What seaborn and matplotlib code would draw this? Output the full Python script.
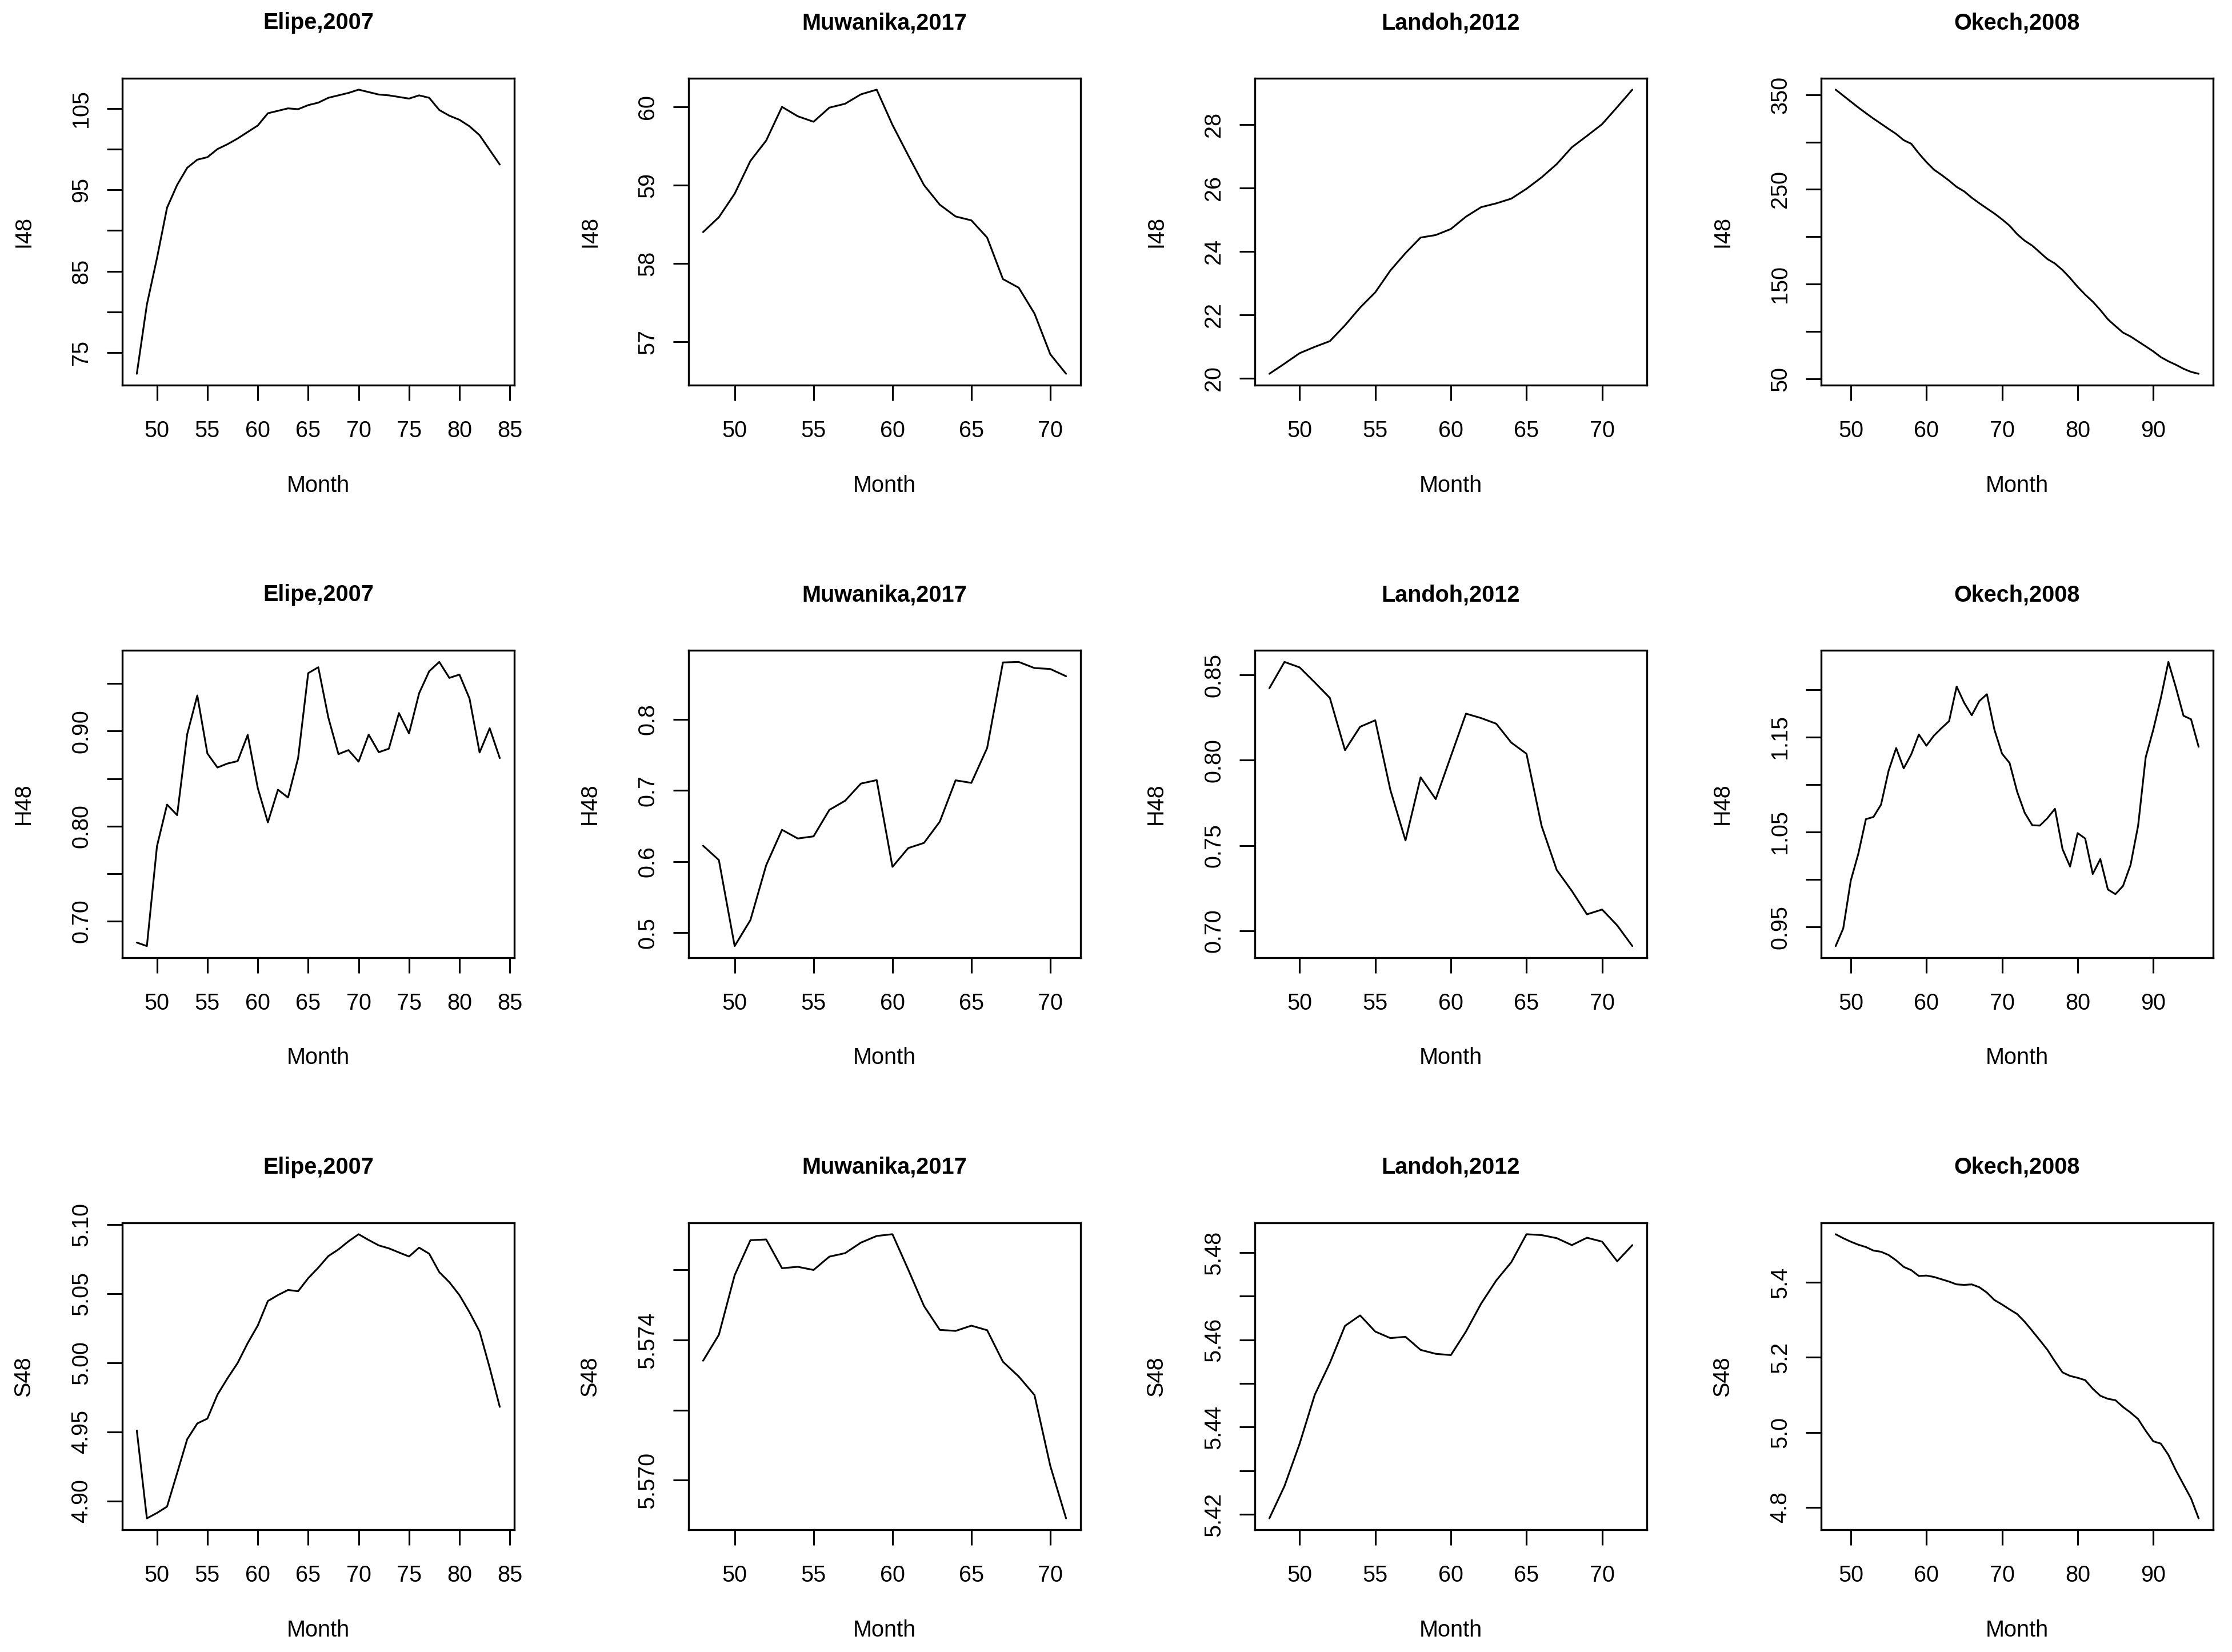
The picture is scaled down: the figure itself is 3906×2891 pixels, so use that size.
import numpy as np
import pandas as pd
import matplotlib
matplotlib.use("Agg")
import matplotlib.pyplot as plt
import seaborn as sns

# R base-graphics look: white background, black box, outward ticks
sns.set_theme(style="white")
plt.rcParams['font.family'] = ['Liberation Sans', 'DejaVu Sans']
for key in ['text.color', 'axes.labelcolor', 'xtick.color', 'ytick.color', 'axes.edgecolor']:
    plt.rcParams[key] = 'black'

sites = ["Elipe,2007", "Muwanika,2017", "Landoh,2012", "Okech,2008"]
variables = ["I48", "H48", "S48"]

month_elipe = np.arange(48, 85)
month_muwanika = np.arange(48, 72)
month_landoh = np.arange(48, 73)
month_okech = np.arange(48, 97)

# ---- I48 ----
i48_elipe = [72.4, 80.9, 86.6, 92.8, 95.6, 97.7, 98.7, 99.0, 100.0, 100.6, 101.3, 102.1, 102.9,
             104.4, 104.7, 105.0, 104.9, 105.4, 105.7, 106.3, 106.6, 106.9, 107.3, 107.0, 106.7,
             106.6, 106.4, 106.2, 106.6, 106.3, 104.8, 104.1, 103.6, 102.8, 101.7, 99.9, 98.1]
i48_muwanika = [58.40, 58.59, 58.89, 59.31, 59.57, 60.00, 59.88, 59.81, 59.99, 60.04, 60.16, 60.22,
                59.77, 59.38, 59.00, 58.75, 58.60, 58.55, 58.33, 57.80, 57.69, 57.36, 56.84, 56.59]
i48_landoh = [20.14, 20.46, 20.79, 20.99, 21.17, 21.67, 22.23, 22.71, 23.40, 23.95, 24.44, 24.52,
              24.71, 25.10, 25.40, 25.52, 25.67, 25.98, 26.34, 26.76, 27.29, 27.65, 28.02, 28.56, 29.11]
i48_okech = [355.4, 349.1, 342.8, 336.5, 330.6, 324.8, 319.4, 313.9, 308.6, 302.0, 298.2, 288.0,
             278.9, 270.9, 265.3, 259.3, 252.6, 247.9, 241.2, 235.4, 229.9, 224.5, 218.4, 211.7,
             202.7, 195.8, 190.6, 183.5, 176.4, 171.7, 164.8, 156.4, 147.1, 138.8, 131.4, 122.6,
             112.8, 105.6, 98.7, 94.6, 89.4, 84.2, 78.9, 72.8, 68.4, 64.7, 60.5, 57.2, 55.2]

# ---- H48 ----
h48_elipe = [0.6775, 0.6738, 0.7788, 0.8227, 0.8116, 0.8968, 0.9375, 0.8765, 0.8617, 0.8659,
             0.8684, 0.8960, 0.8400, 0.8040, 0.8383, 0.8301, 0.8716, 0.9610, 0.9672, 0.9141,
             0.8758, 0.8800, 0.8679, 0.8963, 0.8778, 0.8815, 0.9190, 0.8975, 0.9398, 0.9630,
             0.9728, 0.9560, 0.9595, 0.9343, 0.8775, 0.9030, 0.8716]
h48_muwanika = [0.6223, 0.6022, 0.4812, 0.5178, 0.5950, 0.6447, 0.6325, 0.6355, 0.6727, 0.6856,
                0.7097, 0.7146, 0.5926, 0.6190, 0.6263, 0.6562, 0.7143, 0.7107, 0.7598, 0.8801,
                0.8808, 0.8722, 0.8709, 0.8607]
h48_landoh = [0.8422, 0.8576, 0.8544, 0.8456, 0.8365, 0.8059, 0.8196, 0.8234, 0.7826, 0.7530,
              0.7900, 0.7772, 0.8023, 0.8273, 0.8247, 0.8214, 0.8103, 0.8038, 0.7615, 0.7357,
              0.7234, 0.7097, 0.7125, 0.7032, 0.6911]
h48_okech = [0.9298, 0.9483, 0.9988, 1.0271, 1.0635, 1.0658, 1.0788, 1.1145, 1.1384, 1.1170,
             1.1318, 1.1527, 1.1409, 1.1515, 1.1594, 1.1667, 1.2032, 1.1860, 1.1729, 1.1879,
             1.1951, 1.1576, 1.1325, 1.1227, 1.0924, 1.0702, 1.0571, 1.0567, 1.0645, 1.0744,
             1.0320, 1.0135, 1.0488, 1.0431, 1.0057, 1.0214, 0.9894, 0.9845, 0.9931, 1.0153,
             1.0567, 1.1286, 1.1576, 1.1909, 1.2291, 1.2020, 1.1724, 1.1687, 1.1397]

# ---- S48 ----
s48_elipe = [4.951, 4.8875, 4.8914, 4.8960, 4.9202, 4.9447, 4.9561, 4.9596, 4.9769, 4.9888,
             4.9998, 5.0142, 5.0269, 5.0446, 5.0489, 5.0526, 5.0517, 5.0611, 5.0687, 5.0771,
             5.0819, 5.0878, 5.0929, 5.0887, 5.0848, 5.0827, 5.0797, 5.0768, 5.0832, 5.0788,
             5.0655, 5.0582, 5.0489, 5.0365, 5.0226, 4.9964, 4.9681]
s48_muwanika = [5.57341, 5.57415, 5.57585, 5.57685, 5.57687, 5.57605, 5.57609, 5.57600, 5.57638,
                5.57648, 5.57678, 5.57697, 5.57702, 5.57601, 5.57497, 5.57429, 5.57426, 5.57441,
                5.57428, 5.57338, 5.57296, 5.57243, 5.57041, 5.56891]
s48_landoh = [5.4191, 5.4265, 5.4362, 5.4474, 5.4547, 5.4632, 5.4656, 5.4619, 5.4604, 5.4607,
              5.4577, 5.4568, 5.4565, 5.4619, 5.4683, 5.4736, 5.4778, 5.4842, 5.4840, 5.4833,
              5.4817, 5.4834, 5.4825, 5.4780, 5.4817]
s48_okech = [5.5282, 5.5176, 5.5083, 5.5002, 5.4940, 5.4846, 5.4815, 5.4728, 5.4585, 5.4411,
             5.4324, 5.4168, 5.4180, 5.4143, 5.4081, 5.4019, 5.3944, 5.3932, 5.3944, 5.3869,
             5.3726, 5.3527, 5.3409, 5.3278, 5.3154, 5.2948, 5.2705, 5.2456, 5.2201, 5.1890,
             5.1598, 5.1504, 5.1454, 5.1392, 5.1162, 5.0975, 5.0894, 5.0857, 5.0676, 5.0527,
             5.0353, 5.0042, 4.9762, 4.9699, 4.9401, 4.8983, 4.8610, 4.8237, 4.7707]

# ---- axis ticks (R pretty) ----
x_ticks = [[50, 55, 60, 65, 70, 75, 80, 85], [50, 55, 60, 65, 70],
           [50, 55, 60, 65, 70], [50, 60, 70, 80, 90]]

y_ticks = {
    "I48": [[75, 80, 85, 90, 95, 100, 105], [57, 58, 59, 60], [20, 22, 24, 26, 28],
            [50, 100, 150, 200, 250, 300, 350]],
    "H48": [[0.70, 0.75, 0.80, 0.85, 0.90, 0.95], [0.5, 0.6, 0.7, 0.8], [0.70, 0.75, 0.80, 0.85],
            [0.95, 1.00, 1.05, 1.10, 1.15, 1.20]],
    "S48": [[4.90, 4.95, 5.00, 5.05, 5.10], [5.570, 5.572, 5.574, 5.576],
            [5.42, 5.43, 5.44, 5.45, 5.46, 5.47, 5.48], [4.8, 5.0, 5.2, 5.4]],
}
y_labels = {
    "I48": [["75", "", "85", "", "95", "", "105"], ["57", "58", "59", "60"],
            ["20", "22", "24", "26", "28"], ["50", "", "150", "", "250", "", "350"]],
    "H48": [["0.70", "", "0.80", "", "0.90", ""], ["0.5", "0.6", "0.7", "0.8"],
            ["0.70", "0.75", "0.80", "0.85"], ["0.95", "", "1.05", "", "1.15", ""]],
    "S48": [["4.90", "4.95", "5.00", "5.05", "5.10"], ["5.570", "", "5.574", ""],
            ["5.42", "", "5.44", "", "5.46", "", "5.48"], ["4.8", "5.0", "5.2", "5.4"]],
}

months = [month_elipe, month_muwanika, month_landoh, month_okech]
values = {
    "I48": [i48_elipe, i48_muwanika, i48_landoh, i48_okech],
    "H48": [h48_elipe, h48_muwanika, h48_landoh, h48_okech],
    "S48": [s48_elipe, s48_muwanika, s48_landoh, s48_okech],
}

# layout in pixels of the 3906 x 2891 canvas
W, H, DPI = 3906, 2891, 300
LEFT0, DX, BOX_W = 214, 991, 686
TOP0, DY, BOX_H = 137, 1001.5, 537
FS = 9.5


def r_pad(v):
    lo, hi = min(v), max(v)
    d = (hi - lo) * 0.04
    return lo - d, hi + d


fig = plt.figure(figsize=(W / DPI, H / DPI), dpi=DPI)
fig.patch.set_facecolor('white')

for r, var in enumerate(variables):
    for c, site in enumerate(sites):
        left = (LEFT0 + c * DX) / W
        bottom = 1 - (TOP0 + r * DY + BOX_H) / H
        ax = fig.add_axes([left, bottom, BOX_W / W, BOX_H / H])

        df = pd.DataFrame({'Month': months[c], var: values[var][c]})
        sns.lineplot(data=df, x='Month', y=var, ax=ax, color='black', linewidth=0.75)

        ax.set_xlim(*r_pad(df['Month']))
        ax.set_ylim(*r_pad(df[var]))
        ax.set_xticks(x_ticks[c], [str(t) for t in x_ticks[c]])
        ax.set_yticks(y_ticks[var][c], y_labels[var][c])

        ax.tick_params(axis='both', direction='out', length=6.5, width=0.75,
                       color='black', labelsize=FS, bottom=True, left=True)
        ax.tick_params(axis='x', pad=8.2)
        ax.tick_params(axis='y', pad=6.2, labelrotation=90)
        for lab in ax.get_yticklabels():
            lab.set_va('center')

        for sp in ax.spines.values():
            sp.set_visible(True)
            sp.set_color('black')
            sp.set_linewidth(0.8)

        ax.set_xlabel('Month', fontsize=FS)
        ax.xaxis.set_label_coords(0.5, -176 / BOX_H)
        ax.xaxis.label.set_va('center')
        ax.set_ylabel(var, fontsize=FS)
        ax.yaxis.set_label_coords(-173 / BOX_W, 0.5)
        ax.yaxis.label.set_va('center')

        ax.set_title(site, fontsize=FS, fontweight='bold', y=1 + 97 / BOX_H,
                     pad=0, va='center')
        ax.grid(False)

fig.savefig('out.png', dpi=DPI, facecolor='white')
plt.close(fig)
